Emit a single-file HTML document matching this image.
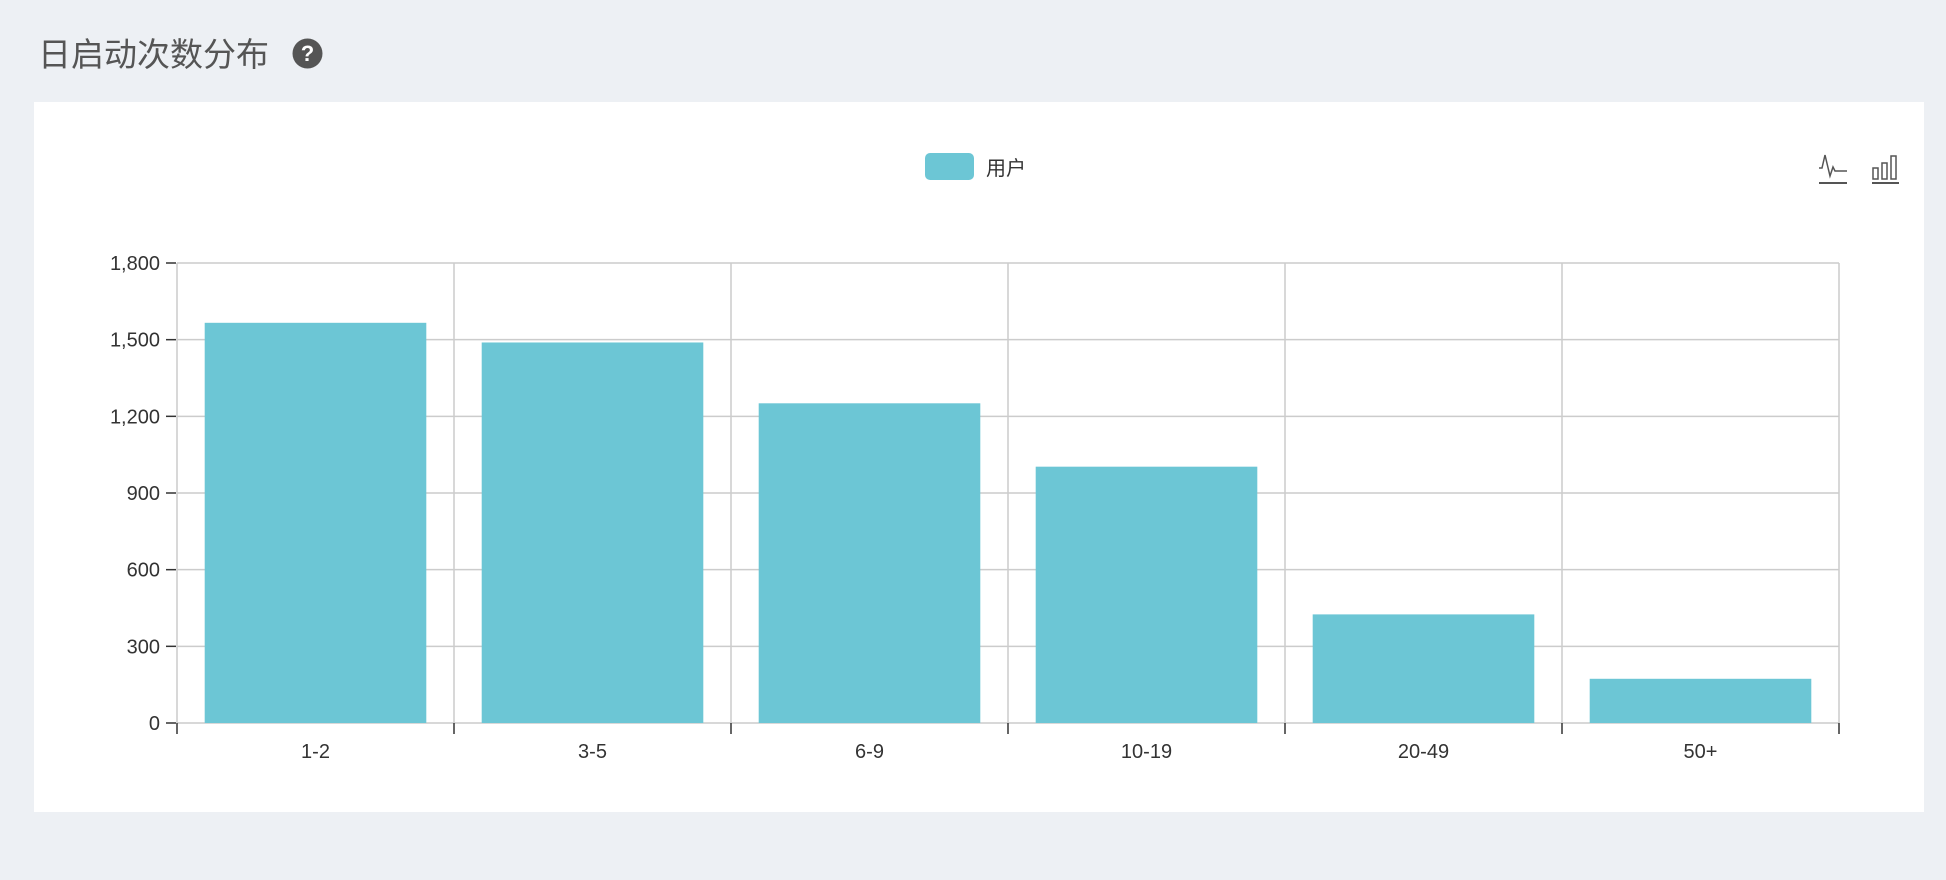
<!DOCTYPE html>
<html><head><meta charset="utf-8"><style>
body{margin:0;width:1946px;height:880px;background:#edf0f4;font-family:"Liberation Sans","Noto Sans CJK SC",sans-serif;overflow:hidden;position:relative}
</style></head><body>
<div style="position:absolute;left:38px;top:28px;font-size:33px;color:#555;letter-spacing:0px">日启动次数分布</div>
<svg style="position:absolute;left:292px;top:38px" width="31" height="31" viewBox="0 0 31 31"><circle cx="15.5" cy="15.5" r="15" fill="#555"/><text x="15.5" y="23" text-anchor="middle" font-family="Liberation Sans,sans-serif" font-weight="bold" font-size="22" fill="#fff">?</text></svg>
<div style="position:absolute;left:34px;top:102px;width:1890px;height:710px;background:#fff"></div>
<svg id="chart" style="position:absolute;left:0;top:0" width="1946" height="880"></svg>
<script>
const categories=["1-2","3-5","6-9","10-19","20-49","50+"];
const values=[1566,1489,1251,1003,425,173];
const yTicks=[0,300,600,900,1200,1500,1800];
const yTickLabels=["0","300","600","900","1,200","1,500","1,800"];
const yMax=1800;
const svg=document.getElementById('chart');
const NS='http://www.w3.org/2000/svg';
const L=177,R=1839,T=263,B=723;
const cw=(R-L)/categories.length;
const y=v=>B-(v/yMax)*(B-T);
const x=i=>L+i*cw;
function mk(t,a){const e=document.createElementNS(NS,t);for(const k in a)e.setAttribute(k,a[k]);svg.appendChild(e);return e;}
yTicks.forEach((v,i)=>{
 const g=mk('line',{x1:L,x2:R,y1:y(v),y2:y(v),stroke:'#ccc','stroke-width':1.5});
 
 
 const tk=mk('line',{x1:166,x2:176,y1:y(v),y2:y(v),stroke:'#333','stroke-width':1.5});
 
 
 const t=mk('text',{x:160,y:y(v)+7,'text-anchor':'end','font-size':20,fill:'#333','font-family':'Liberation Sans,sans-serif'});
 t.textContent=yTickLabels[i];
 
 
});
for(let i=0;i<=categories.length;i++){
 const g=mk('line',{x1:x(i),x2:x(i),y1:T,y2:B,stroke:'#ccc','stroke-width':1.5});
 
 
 const tk=mk('line',{x1:x(i),x2:x(i),y1:B,y2:B+11,stroke:'#333','stroke-width':1.5});
 
 
}
categories.forEach((c,i)=>{
 const bw=cw*0.8;
 const r=mk('rect',{x:x(i)+(cw-bw)/2,y:y(values[i]),width:bw,height:B-y(values[i]),fill:'#6cc6d5'});
 
 
 const t=mk('text',{x:x(i)+cw/2,y:758,'text-anchor':'middle','font-size':20,fill:'#333','font-family':'Liberation Sans,sans-serif'});
 t.textContent=c;
 
 
});
</script>
<div style="position:absolute;left:925px;top:152px;height:28px;display:flex;align-items:center">
<div style="width:49px;height:27px;background:#6cc6d5;border-radius:5px"></div>
<span style="margin-left:12px;font-size:20px;color:#333">用户</span></div>
<svg style="position:absolute;left:1818px;top:152px" width="32" height="34" viewBox="0 0 32 34"><polyline points="1,16 4,16 7,3 12,24 15,15 17,19 29,19" fill="none" stroke="#555" stroke-width="1.5"/><line x1="1" y1="31" x2="29" y2="31" stroke="#555" stroke-width="2"/></svg>
<svg style="position:absolute;left:1871px;top:152px" width="30" height="34" viewBox="0 0 30 34"><rect x="2" y="16" width="5" height="11" fill="none" stroke="#555" stroke-width="1.5"/><rect x="11" y="11" width="5" height="16" fill="none" stroke="#555" stroke-width="1.5"/><rect x="20" y="4" width="5" height="23" fill="none" stroke="#555" stroke-width="1.5"/><line x1="1" y1="31" x2="28" y2="31" stroke="#555" stroke-width="2"/></svg>
</body></html>
